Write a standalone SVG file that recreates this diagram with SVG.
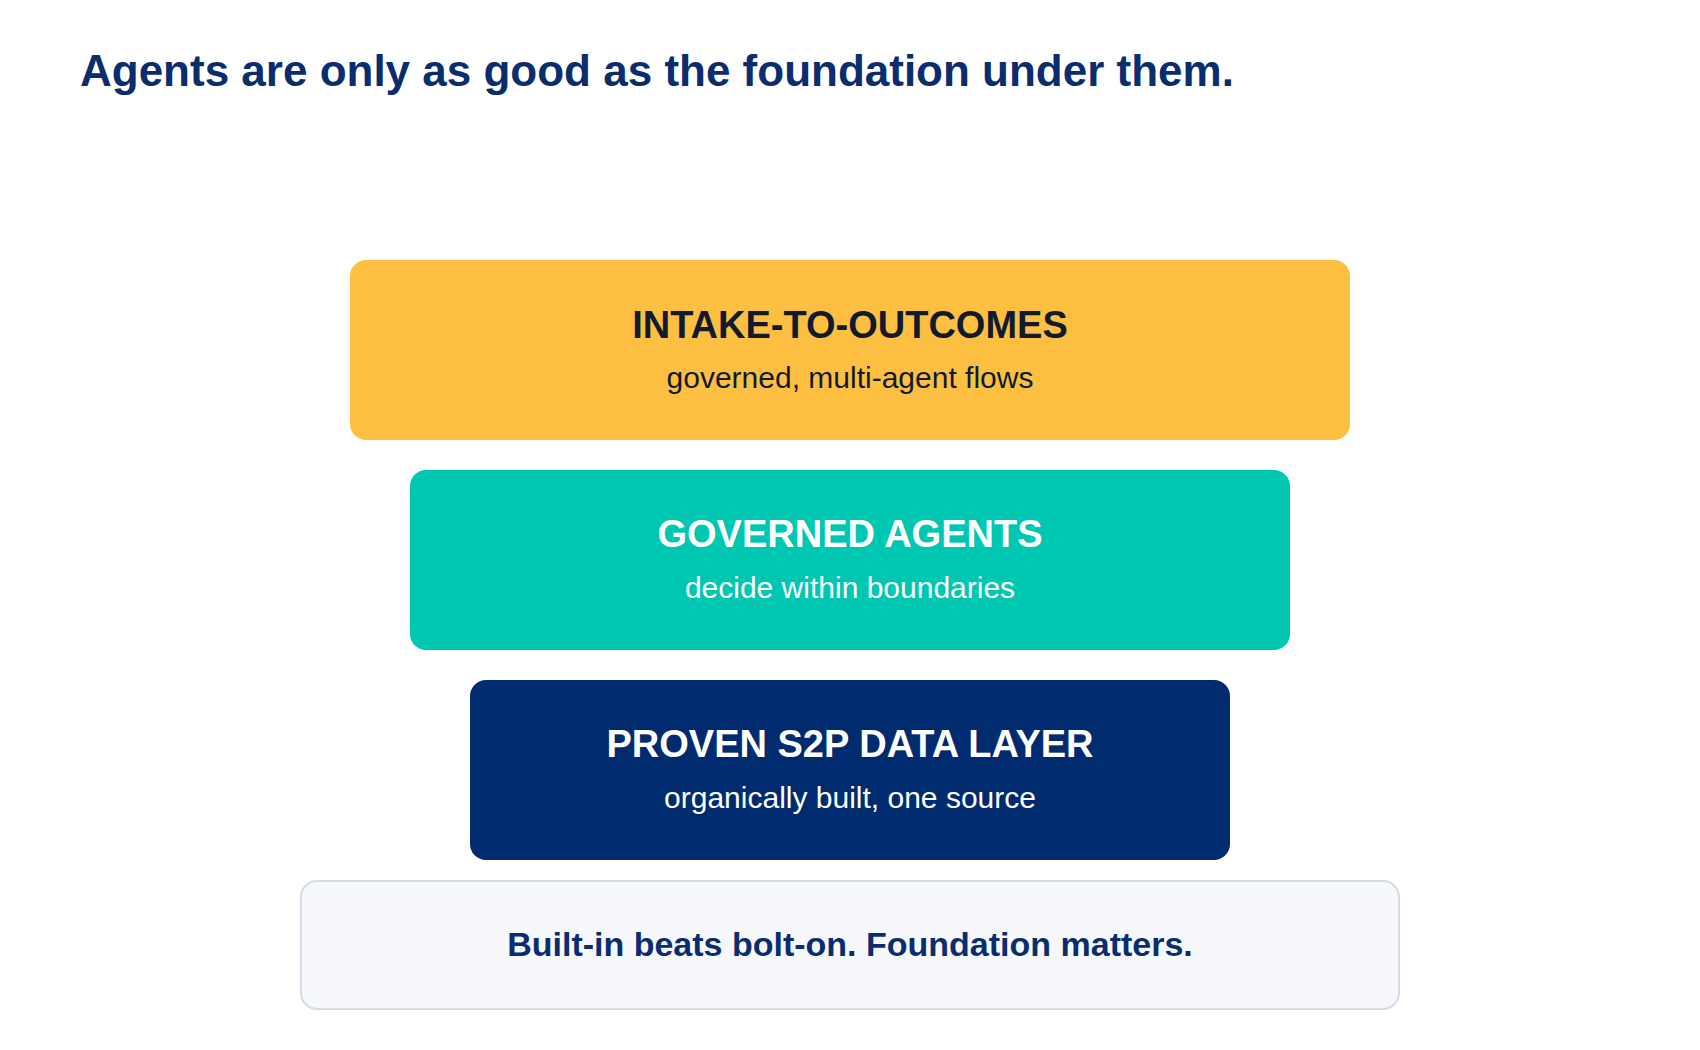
<svg xmlns="http://www.w3.org/2000/svg" width="1700" height="1050" viewBox="0 0 1700 1050">
<style>
.t{font-family:"Liberation Sans",Arial,sans-serif;text-anchor:middle}
.h{font-size:38px;font-weight:bold}
.s{font-size:30px}
</style>
<rect x="0" y="0" width="1700" height="1050" fill="#ffffff"/>
<text x="80" y="86" font-family="Liberation Sans, Arial, sans-serif" font-size="44" font-weight="bold" fill="#0a2d6e">Agents are only as good as the foundation under them.</text>
<g id="connectors"></g>
<g id="layer-intake">
<rect x="350" y="260" width="1000" height="180" rx="16" fill="#fdbf41"/>
<text class="t h" x="850" y="338" fill="#111a2e">INTAKE-TO-OUTCOMES</text>
<text class="t s" x="850" y="388" fill="#111a2e">governed, multi-agent flows</text>
</g>
<g id="layer-agents">
<rect x="410" y="470" width="880" height="180" rx="16" fill="#00c7b2"/>
<text class="t h" x="850" y="547" fill="#ffffff">GOVERNED AGENTS</text>
<text class="t s" x="850" y="598" fill="#ffffff">decide within boundaries</text>
</g>
<g id="layer-data">
<rect x="470" y="680" width="760" height="180" rx="16" fill="#002b6f"/>
<text class="t h" x="850" y="757" fill="#ffffff">PROVEN S2P DATA LAYER</text>
<text class="t s" x="850" y="808" fill="#ffffff">organically built, one source</text>
</g>
<g id="footer">
<rect x="301" y="881" width="1098" height="128" rx="16" fill="#f6f8fc" stroke="#d6dce6" stroke-width="2"/>
<text class="t" x="850" y="956" font-size="34" font-weight="bold" fill="#0a2d6e">Built-in beats bolt-on. Foundation matters.</text>
</g>
</svg>
